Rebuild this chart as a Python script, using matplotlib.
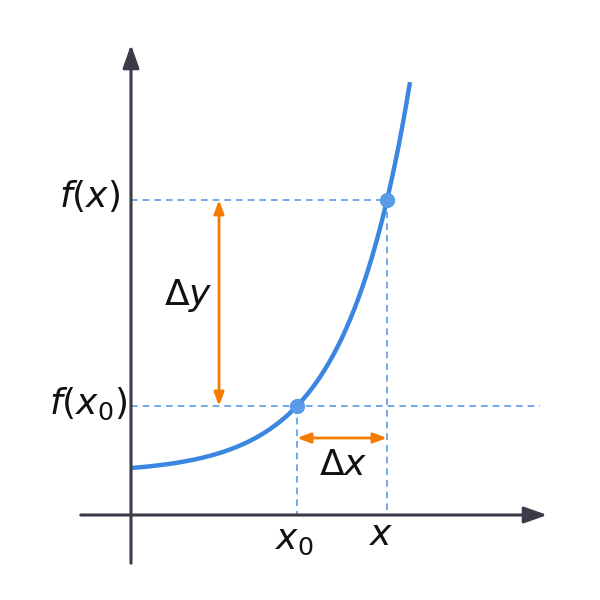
import numpy as np
import matplotlib
matplotlib.use("Agg")
import matplotlib.pyplot as plt

# diagram coordinates (pixel-like units, y downward)
x0_pos, x_pos = 297, 387
fx0_pos, fx_pos = 406, 200
curve_start_y = 468
curve_end_x = 410
b = 0.0155

fig = plt.figure(figsize=(6, 6), dpi=100)
ax = fig.add_axes([0, 0, 1, 1])
ax.set_xlim(0, 600); ax.set_ylim(600, 0); ax.axis('off')

axc = '#3b3b4a'
ax.annotate('', xy=(550, 515), xytext=(78, 515),
            arrowprops=dict(arrowstyle='-|>,head_length=1.4,head_width=0.5', color=axc, lw=2.2))
ax.annotate('', xy=(131, 42), xytext=(131, 566),
            arrowprops=dict(arrowstyle='-|>,head_length=1.4,head_width=0.5', color=axc, lw=2.2))

# exponential-like curve through start point and (x0, f(x0)), (x, f(x))
a = 515 - curve_start_y
u0, u1 = x0_pos - 131, x_pos - 131
v0, v1 = 515 - fx0_pos - a, 515 - fx_pos - a
A = v0 / (np.exp(b * u0) - 1)
xs = np.linspace(131, curve_end_x, 300)
u = xs - 131
vals = A * (np.exp(b * u) - 1)
# small power correction so the curve hits the second point exactly
q = np.log(v1 / v0) / np.log((np.exp(b * u1) - 1) / (np.exp(b * u0) - 1))
vals = v0 * (vals / v0) ** q
ys = 515 - (a + vals)
ax.plot(xs, ys, color='#3a86e0', lw=3.2, solid_capstyle='butt')

dc = '#5a9be8'
ds = dict(color=dc, lw=1.2, ls=(0, (4, 3)))
ax.plot([131, x_pos], [fx_pos, fx_pos], **ds)
ax.plot([131, 540], [fx0_pos, fx0_pos], **ds)
ax.plot([x0_pos, x0_pos], [fx0_pos, 515], **ds)
ax.plot([x_pos, x_pos], [fx_pos, 515], **ds)

ax.plot([x0_pos, x_pos], [fx0_pos, fx_pos], 'o', color='#5a9be8', ms=10, zorder=5)

oc = '#f57c00'
ap = dict(arrowstyle='<|-|>,head_length=0.8,head_width=0.3', color=oc, lw=2, shrinkA=0, shrinkB=0)
ax.annotate('', xy=(219, fx_pos), xytext=(219, fx0_pos), arrowprops=ap)
ax.annotate('', xy=(x0_pos, 438), xytext=(x_pos, 438), arrowprops=ap)

tk = dict(fontsize=26, ha='center', va='center', color='#111111')
ax.text(90, 196, r'$f(x)$', **tk)
ax.text(88, 404, r'$f(x_0)$', **tk)
ax.text(188, 295, r'$\Delta y$', **tk)
ax.text(343, 465, r'$\Delta x$', **tk)
ax.text(294, 540, r'$x_0$', **tk)
ax.text(381, 535, r'$x$', **tk)

fig.savefig('out.png', dpi=100)
